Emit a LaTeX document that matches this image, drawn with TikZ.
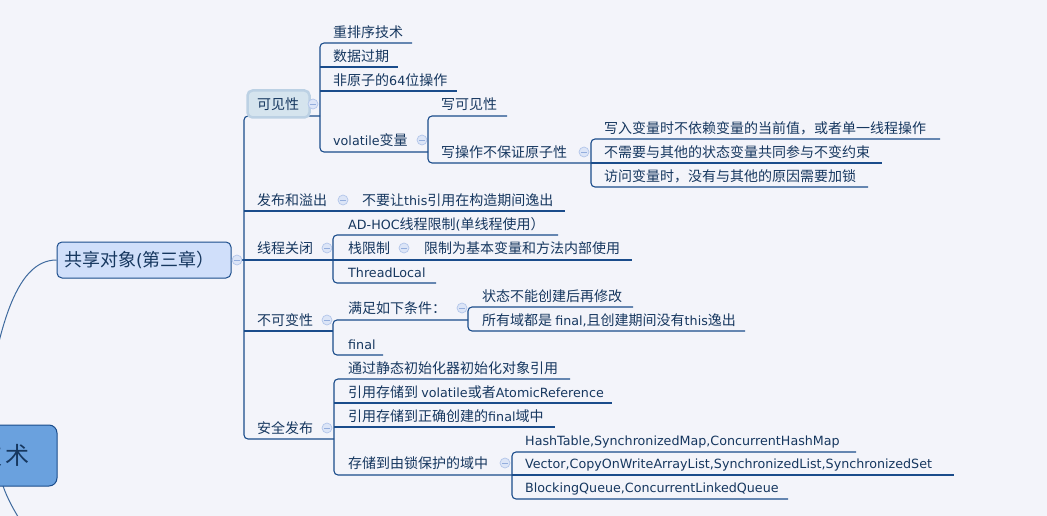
\documentclass[tikz,border=0pt]{standalone}
\usepackage{fontspec}
\setmainfont{Noto Sans CJK SC}
\newfontfamily\latf{DejaVu Sans}
\newcommand\la[1]{{\latf\fontsize{12.7}{15}\selectfont #1}}
\definecolor{bg}{HTML}{F3F4FA}
\definecolor{ln}{HTML}{1A4C8B}
\definecolor{tx}{HTML}{16375F}
\definecolor{togf}{HTML}{DCE5F7}
\definecolor{togb}{HTML}{B3C6EA}
\definecolor{togm}{HTML}{94AEDD}
\definecolor{boxf}{HTML}{D0DFFA}
\definecolor{rootf}{HTML}{6AA1DE}
\definecolor{self}{HTML}{D5E4EE}
\definecolor{selb}{HTML}{BCD1E4}
\definecolor{curve}{HTML}{3E6A9E}
\begin{document}
\begin{tikzpicture}[x=1pt,y=-1pt,
  line/.style={draw=ln, line width=1.1pt, rounded corners=4pt},
  lbl/.style={anchor=west, inner sep=0pt, text=tx, text height=12pt, text depth=1.7pt, font=\fontsize{14}{16}\selectfont},
  tog/.style={circle, draw=togb, fill=togf, line width=0.7pt, minimum size=10pt, inner sep=0pt,
    path picture={\draw[togm, line width=0.9pt] ([xshift=-2.6pt]path picture bounding box.center) -- ([xshift=2.6pt]path picture bounding box.center);}},
  conn/.style={draw=curve, line width=1pt}]
\useasboundingbox (0,0) rectangle (1047,516);
\fill[bg] (0,0) rectangle (1047,516);
\clip (0,0) rectangle (1047,516);

% ---------- root and level-1 box ----------
\coordinate (rootc) at (-20,455);
\coordinate (rootb) at (3,486);
\coordinate (down) at (20,520);
\draw[conn] (rootb) .. controls (8,500) and (14,510) .. (down);
\node[draw=ln, fill=rootf, rounded corners=8pt, line width=1pt, minimum width=80pt, minimum height=61pt, inner sep=0pt] (root) at (17,455.5) {};
\node[anchor=east, inner sep=0pt, text=tx, font=\fontsize{24}{26}\selectfont] (roott) at (30,455) {技\kern3pt术};

\node[draw=ln, fill=boxf, rounded corners=5pt, line width=1pt, minimum width=174pt, minimum height=36pt, inner sep=0pt] (share) at (144,260) {};
\node[lbl, font=\fontsize{18}{20}\selectfont, text height=15pt, text depth=2pt] (sharet) at (64,260) {共享对象\la{\fontsize{17}{20}\selectfont(}第三章）};
\draw[conn] (share.west) .. controls (15,260) and (-5,330) .. (rootc);

% ---------- main trunk ----------
\coordinate (kvE) at (320,116);
\coordinate (aqE) at (334,439);
\coordinate (xcE) at (333,260);
\draw[line] (kvE) -- (244,116) -- (244,439) -- (aqE);
\draw[line] (share.east) -- (xcE);
\node[tog] (tg0) at (237,260) {};

% 可见性
\node[draw=selb, fill=self, line width=2.5pt, rounded corners=5pt, minimum width=62pt, minimum height=27pt, inner sep=0pt] (kvbox) at (278.5,104) {};
\node[lbl] (kv) at (257,104) {可见性};
\node[tog] (tgkv) at (313,104) {};
\draw[line] (412,43) -- (kvE |- 0,43) -- (kvE |- 0,152) -- (428,152);
\draw[line] (320,67) -- (398,67);
\draw[line] (320,91) -- (457,91);
\node[lbl] (a1) at (333,32) {重排序技术};
\node[lbl] (a2) at (333,56) {数据过期};
\node[lbl] (a3) at (333,80) {非原子的\la{64}位操作};
\node[lbl] (a4) at (333,140) {\la{volatile}变量};
\node[tog] (tga4) at (422,140) {};
\draw[line] (507,116) -- (428,116) -- (428,163) -- (591,163);
\node[lbl] (b1) at (441,104) {写可见性};
\node[lbl] (b2) at (441,152) {写操作不保证原子性};
\node[tog] (tgb2) at (584,152) {};
\draw[line] (940,139) -- (591,139) -- (591,187) -- (868,187);
\draw[line] (591,163) -- (882,163);
\node[lbl] (c1) at (604,128) {写入变量时不依赖变量的当前值，或者单一线程操作};
\node[lbl] (c2) at (604,152) {不需要与其他的状态变量共同参与不变约束};
\node[lbl] (c3) at (604,176) {访问变量时，没有与其他的原因需要加锁};

% 发布和溢出
\draw[line] (244,211) -- (565,211);
\node[lbl] (fb) at (257,200) {发布和溢出};
\node[tog] (tgfb) at (343,200) {};
\node[lbl] (fb1) at (362,200) {不要让\la{this}引用在构造期间逸出};

% 线程关闭
\node[lbl] (xc) at (257,248) {线程关闭};
\node[tog] (tgxc) at (327,248) {};
\draw[line] (558,235) -- (333,235) -- (333,283) -- (436,283);
\draw[line] (333,260) -- (632,260);
\node[lbl] (d1) at (348,224) {\la{AD-HOC}线程限制\la{(}单线程使用）};
\node[lbl] (d2) at (348,248) {栈限制};
\node[tog] (tgd2) at (404,248) {};
\node[lbl] (d21) at (424,248) {限制为基本变量和方法内部使用};
\node[lbl] (d3) at (348,272) {\la{ThreadLocal}};

% 不可变性
\draw[line] (244,331) -- (333,331);
\node[lbl] (bk) at (257,320) {不可变性};
\node[tog] (tgbk) at (327,320) {};
\draw[line] (468,320) -- (333,320) -- (333,355) -- (383,355);
\node[lbl] (e1) at (348,308) {满足如下条件：};
\node[tog] (tge1) at (462,308) {};
\draw[line] (633,307) -- (468,307) -- (468,331) -- (745,331);
\node[lbl] (f1) at (482,296) {状态不能创建后再修改};
\node[lbl] (f2) at (482,320) {所有域都是 \la{final,}且创建期间没有\la{this}逸出};
\node[lbl] (e2) at (348,344) {\la{final}};

% 安全发布
\node[lbl] (aq) at (257,428) {安全发布};
\node[tog] (tgaq) at (327,428) {};
\draw[line] (570,379) -- (334,379) -- (334,475) -- (512,475);
\draw[line] (334,403) -- (612,403);
\draw[line] (334,427) -- (555,427);
\node[lbl] (g1) at (348,368) {通过静态初始化器初始化对象引用};
\node[lbl] (g2) at (348,392) {引用存储到 \la{volatile}或者\la{AtomicReference}};
\node[lbl] (g3) at (348,416) {引用存储到正确创建的\la{final}域中};
\node[lbl] (g4) at (348,463) {存储到由锁保护的域中};
\node[tog] (tgg4) at (505,463) {};
\draw[line] (856,452) -- (512,452) -- (512,499) -- (788,499);
\draw[line] (512,475) -- (954,475);
\node[lbl] (h1) at (525,440) {\la{HashTable,SynchronizedMap,ConcurrentHashMap}};
\node[lbl] (h2) at (525,463) {\la{Vector,CopyOnWriteArrayList,SynchronizedList,SynchronizedSet}};
\node[lbl] (h3) at (525,487) {\la{BlockingQueue,ConcurrentLinkedQueue}};
\end{tikzpicture}
\end{document}
